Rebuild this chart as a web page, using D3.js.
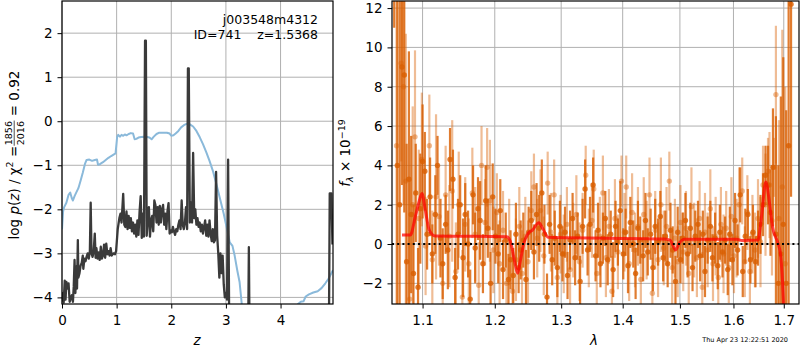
<!DOCTYPE html>
<html><head><meta charset="utf-8">
<script src="https://cdn.jsdelivr.net/npm/d3@7"></script>
<style>body{margin:0;background:#fff} svg{display:block;font-family:"DejaVu Sans",sans-serif}</style>
</head><body><svg id="c" width="800" height="350"></svg>
<script>
// ---------- DATA ----------
const zTicks = [0, 1, 2, 3, 4];
const logpTicks = [-4, -3, -2, -1, 0, 1, 2];
const lamTicks = [1.1, 1.2, 1.3, 1.4, 1.5, 1.6, 1.7];
const fluxTicks = [-2, 0, 2, 4, 6, 8, 10, 12];
const zDomain = [0, 4.96];
const logpDomain = [-4.15, 2.73];
const lamDomain = [1.0602, 1.7315];
const fluxDomain = [-3.05, 12.36];

// log p(z) (black) : [z, logp]
const pzCurve = [[0.00,-4.10],[0.02,-3.90],[0.03,-4.12],[0.05,-3.62],[0.065,-4.05],[0.08,-3.65],[0.10,-3.80],[0.12,-3.68],[0.14,-4.10],[0.16,-4.02],[0.18,-3.95],[0.20,-4.10],[0.215,-3.75],[0.23,-3.15],[0.245,-3.90],[0.26,-3.30],[0.275,-3.80],[0.29,-2.70],[0.30,-3.55],[0.32,-3.45],[0.34,-3.28],[0.36,-3.22],[0.38,-3.05],[0.39,-3.35],[0.41,-3.12],[0.43,-3.18],[0.45,-3.08],[0.47,-3.00],[0.49,-3.12],[0.51,-2.95],[0.525,-1.85],[0.54,-3.00],[0.56,-3.08],[0.58,-2.95],[0.60,-2.55],[0.615,-3.10],[0.63,-2.88],[0.65,-3.12],[0.67,-2.98],[0.69,-3.15],[0.71,-2.85],[0.73,-3.12],[0.75,-3.05],[0.77,-2.80],[0.79,-3.10],[0.81,-2.78],[0.83,-3.02],[0.85,-2.95],[0.87,-3.05],[0.89,-2.88],[0.91,-3.05],[0.94,-3.00],[0.97,-3.02],[0.99,-2.95],[1.02,-2.45],[1.05,-2.20],[1.07,-2.10],[1.09,-2.30],[1.12,-1.65],[1.14,-2.35],[1.16,-2.40],[1.18,-2.05],[1.20,-2.45],[1.22,-2.15],[1.24,-2.42],[1.26,-2.20],[1.28,-2.50],[1.30,-2.30],[1.32,-2.55],[1.34,-2.35],[1.36,-2.62],[1.38,-2.25],[1.40,-2.58],[1.42,-2.05],[1.44,-1.70],[1.46,-2.65],[1.48,-2.10],[1.50,-2.62],[1.52,1.83],[1.535,1.83],[1.55,-2.60],[1.57,-2.20],[1.59,-1.95],[1.61,-2.62],[1.63,-2.25],[1.65,-2.15],[1.67,-2.50],[1.69,-1.80],[1.71,-1.90],[1.73,-2.30],[1.75,-1.95],[1.77,-2.35],[1.79,-1.92],[1.81,-2.30],[1.83,-2.00],[1.85,-1.90],[1.87,-2.35],[1.89,-2.10],[1.91,-2.45],[1.93,-2.05],[1.95,-1.86],[1.97,-2.55],[1.99,-2.48],[2.01,-2.52],[2.03,-2.40],[2.05,-2.50],[2.07,-2.58],[2.09,-2.45],[2.11,-2.50],[2.13,-2.35],[2.15,-2.25],[2.17,-2.45],[2.19,-1.80],[2.21,-2.35],[2.23,-2.45],[2.25,-2.30],[2.27,-1.95],[2.29,-2.45],[2.305,1.20],[2.32,1.20],[2.34,-2.30],[2.36,-1.85],[2.38,-2.30],[2.40,-0.72],[2.42,-2.20],[2.44,-2.00],[2.46,-2.35],[2.48,-2.20],[2.50,-2.40],[2.52,-2.30],[2.54,-2.50],[2.56,-2.35],[2.58,-2.55],[2.60,-2.40],[2.62,-2.25],[2.64,-2.60],[2.66,-2.35],[2.68,-2.62],[2.70,-2.25],[2.72,-2.55],[2.74,-2.72],[2.76,-2.45],[2.78,-2.75],[2.80,-2.70],[2.82,-1.15],[2.84,-2.60],[2.86,-3.00],[2.88,-3.55],[2.90,-3.00],[2.92,-3.45],[2.94,-3.05],[2.96,-3.70],[2.98,-4.00],[3.00,-3.90],[3.02,-4.05],[3.04,-0.87],[3.06,-4.60],[3.08,-6.0],[3.40,-6.0],[3.42,-2.86],[3.44,-6.0],[4.88,-6.0],[4.90,-1.64],[4.93,-1.64],[4.95,-2.80]];

// prior / chi2 curve (blue) : [z, value]
const chi2Curve = [[0.00,-2.45],[0.02,-2.05],[0.04,-1.95],[0.08,-1.85],[0.12,-1.67],[0.15,-1.62],[0.18,-1.75],[0.20,-1.80],[0.23,-1.70],[0.26,-1.62],[0.30,-1.52],[0.34,-1.35],[0.38,-1.17],[0.42,-0.97],[0.45,-0.88],[0.50,-0.87],[0.55,-0.90],[0.60,-0.88],[0.64,-0.87],[0.66,-0.99],[0.70,-0.97],[0.75,-0.93],[0.80,-0.88],[0.85,-0.83],[0.90,-0.79],[0.98,-0.73],[1.01,-0.35],[1.03,-0.31],[1.06,-0.35],[1.09,-0.31],[1.12,-0.33],[1.15,-0.30],[1.18,-0.32],[1.22,-0.29],[1.26,-0.27],[1.30,-0.28],[1.33,-0.41],[1.36,-0.40],[1.40,-0.37],[1.45,-0.36],[1.50,-0.35],[1.56,-0.36],[1.60,-0.37],[1.64,-0.41],[1.68,-0.35],[1.73,-0.29],[1.78,-0.26],[1.85,-0.26],[1.92,-0.26],[1.97,-0.28],[2.00,-0.33],[2.04,-0.32],[2.08,-0.28],[2.13,-0.22],[2.18,-0.14],[2.23,-0.09],[2.28,-0.06],[2.34,-0.07],[2.40,-0.12],[2.46,-0.22],[2.52,-0.36],[2.58,-0.52],[2.64,-0.70],[2.70,-0.90],[2.76,-1.12],[2.83,-1.45],[2.90,-1.80],[2.96,-2.10],[3.02,-2.45],[3.07,-2.75],[3.12,-2.83],[3.16,-3.05],[3.21,-3.40],[3.25,-3.65],[3.29,-4.15],[3.32,-4.60],[3.35,-6.0],[4.25,-6.0],[4.28,-4.50],[4.32,-4.15],[4.37,-4.10],[4.42,-4.09],[4.46,-3.98],[4.52,-3.93],[4.60,-3.89],[4.68,-3.86],[4.75,-3.79],[4.82,-3.68],[4.88,-3.57],[4.96,-3.38]];

// spectrum, darker exposure : [lambda, flux, err]
const specDark = [[1.063,14.5,3.5],[1.067,4.0,9.0],[1.070,2.0,11.0],[1.073,9.0,6.0],[1.076,8.6,7.0],[1.079,-0.9,6.0],[1.082,3.3,6.5],[1.085,1.5,4.0],[1.088,-1.5,3.5],[1.091,2.6,2.5],[1.094,-2.2,2.0],[1.097,1.8,2.8],[1.100,4.2,2.9],[1.103,3.7,2.0],[1.106,0.5,1.8],[1.110,2.4,2.0],[1.113,-0.5,1.5],[1.117,1.5,2.0],[1.120,4.0,1.5],[1.124,0.3,2.0],[1.127,-1.0,1.8],[1.131,1.0,1.5],[1.134,-0.3,2.0],[1.137,4.3,1.6],[1.141,3.3,1.5],[1.144,-1.7,1.5],[1.148,0.5,1.8],[1.151,2.0,1.5],[1.155,-0.7,2.0],[1.158,1.5,1.6],[1.162,0.0,1.7],[1.165,-2.8,1.5],[1.169,2.5,1.5],[1.172,-0.2,1.8],[1.176,1.8,1.6],[1.179,1.2,2.0],[1.183,-1.0,1.5],[1.187,2.2,1.8],[1.190,0.8,1.5],[1.194,-2.0,1.6],[1.197,2.4,1.7],[1.201,0.4,1.4],[1.205,-0.5,1.5],[1.208,1.7,1.6],[1.212,-1.3,1.5],[1.216,0.2,1.4],[1.220,-1.8,1.3],[1.223,-0.8,1.5],[1.227,-1.6,1.4],[1.231,0.5,1.6],[1.235,-1.2,1.3],[1.238,-0.3,1.5],[1.242,0.2,1.4],[1.246,-1.8,1.5],[1.250,0.6,1.3],[1.254,1.2,1.5],[1.258,-0.4,1.4],[1.262,1.5,1.6],[1.266,0.8,1.7],[1.270,2.6,1.7],[1.274,0.5,1.5],[1.278,-2.7,1.2],[1.282,1.0,1.5],[1.286,-0.8,1.3],[1.290,0.3,1.4],[1.294,-1.2,1.5],[1.298,0.9,1.3],[1.302,-0.5,1.4],[1.306,0.6,1.3],[1.310,-1.6,1.2],[1.314,0.2,1.5],[1.318,1.3,1.3],[1.322,-0.7,1.4],[1.326,0.4,1.2],[1.330,-1.9,1.3],[1.334,0.9,1.4],[1.338,2.8,1.5],[1.342,-0.3,1.3],[1.346,1.0,1.4],[1.351,3.0,1.4],[1.355,-0.6,1.3],[1.359,0.7,1.4],[1.363,-1.0,1.2],[1.367,0.3,1.3],[1.371,1.3,1.4],[1.375,-0.8,1.3],[1.380,0.5,1.2],[1.384,-1.3,1.4],[1.388,0.9,1.3],[1.392,0.1,1.2],[1.396,1.7,1.5],[1.401,-0.5,1.3],[1.405,0.6,1.2],[1.409,-1.1,1.4],[1.413,1.1,1.3],[1.418,0.0,1.2],[1.422,-1.5,1.3],[1.426,0.8,1.4],[1.430,0.2,1.2],[1.435,-0.6,1.3],[1.439,1.2,1.4],[1.443,-0.4,1.2],[1.448,0.5,1.3],[1.452,-1.2,1.2],[1.456,0.9,1.4],[1.461,0.1,1.2],[1.465,1.4,1.3],[1.470,-0.7,1.2],[1.474,0.4,1.3],[1.478,-1.0,1.2],[1.483,0.7,1.4],[1.487,-0.3,1.2],[1.492,-1.9,1.3],[1.496,0.6,1.3],[1.501,-0.8,1.2],[1.505,0.3,1.3],[1.510,1.2,1.4],[1.514,-0.5,1.2],[1.519,0.8,1.3],[1.523,-1.2,1.2],[1.528,0.4,1.3],[1.533,1.0,1.2],[1.537,-0.6,1.3],[1.542,0.5,1.2],[1.546,-1.4,1.3],[1.551,0.2,1.2],[1.556,0.9,1.3],[1.560,-0.7,1.2],[1.565,0.3,1.3],[1.570,-1.1,1.2],[1.574,0.6,1.4],[1.579,-0.4,1.3],[1.584,0.2,1.2],[1.589,-1.3,1.3],[1.593,0.5,1.4],[1.598,-0.8,1.3],[1.603,1.2,1.4],[1.608,-0.3,1.3],[1.613,2.5,1.4],[1.618,-1.4,1.3],[1.623,0.4,1.4],[1.628,1.5,1.3],[1.633,-0.8,1.2],[1.638,0.6,1.4],[1.643,-0.9,1.3],[1.648,0.3,1.4],[1.653,1.0,1.5],[1.658,2.0,1.6],[1.663,3.5,1.5],[1.668,3.0,2.0],[1.673,1.6,2.2],[1.678,3.9,3.0],[1.684,0.5,6.0],[1.689,-2.0,6.0],[1.694,-0.5,8.0],[1.699,1.0,8.5],[1.705,-2.0,8.8],[1.710,5.0,10.0],[1.715,12.2,9.8]];

// spectrum, lighter exposure : [lambda, flux, err]
const specLight = [[1.066,5.0,10.0],[1.072,9.2,5.0],[1.075,8.0,6.0],[1.078,3.2,7.5],[1.083,-2.8,6.0],[1.087,2.0,5.0],[1.090,5.45,4.4],[1.095,1.3,3.5],[1.099,4.3,3.4],[1.104,-0.1,2.5],[1.109,5.0,2.6],[1.113,-0.8,2.5],[1.118,2.4,4.2],[1.122,1.4,2.5],[1.127,-2.0,2.5],[1.131,2.5,2.5],[1.136,0.4,2.6],[1.140,2.7,3.6],[1.145,-1.4,2.5],[1.149,2.0,2.7],[1.154,-2.7,2.4],[1.158,1.0,2.4],[1.163,-1.0,2.3],[1.168,2.6,2.3],[1.172,0.5,2.4],[1.177,-2.1,2.2],[1.181,4.0,2.0],[1.186,1.1,2.2],[1.189,3.9,2.0],[1.193,2.2,3.1],[1.198,-0.3,2.2],[1.203,1.6,2.0],[1.207,-1.0,2.2],[1.212,0.7,2.0],[1.217,-2.0,2.1],[1.221,0.1,2.2],[1.226,-2.4,2.0],[1.231,-0.8,2.1],[1.236,0.9,2.0],[1.240,-1.5,2.2],[1.245,0.4,2.0],[1.249,-0.9,2.1],[1.254,1.7,2.0],[1.258,2.9,1.7],[1.263,0.3,2.0],[1.268,1.7,2.1],[1.273,-0.6,2.0],[1.279,3.1,1.6],[1.284,0.6,2.0],[1.289,2.5,1.8],[1.294,-1.7,1.9],[1.299,0.5,2.0],[1.304,-0.5,2.0],[1.309,1.0,1.9],[1.314,-1.3,2.0],[1.319,0.2,1.9],[1.324,1.5,2.0],[1.329,-0.9,2.0],[1.334,0.7,1.9],[1.339,3.5,1.5],[1.344,-0.2,2.0],[1.349,1.2,1.9],[1.352,2.8,2.0],[1.357,-1.5,1.9],[1.362,0.4,2.0],[1.367,2.6,1.9],[1.372,-0.7,2.0],[1.377,0.9,1.9],[1.382,-2.4,1.8],[1.387,1.3,2.0],[1.392,-0.4,1.9],[1.398,3.2,1.3],[1.403,0.6,2.0],[1.406,2.9,1.6],[1.411,-1.0,1.9],[1.416,1.6,2.0],[1.421,-0.3,1.9],[1.426,0.9,2.0],[1.431,-1.8,1.8],[1.436,1.5,1.9],[1.441,0.2,2.0],[1.446,2.5,1.9],[1.451,-2.5,1.8],[1.456,0.7,2.0],[1.461,-0.8,1.9],[1.466,2.0,2.4],[1.471,-0.2,1.9],[1.476,0.9,2.0],[1.481,3.2,1.5],[1.486,-1.2,1.9],[1.491,0.3,2.0],[1.496,-0.9,1.8],[1.501,1.1,1.9],[1.506,-0.4,2.0],[1.511,0.8,1.9],[1.516,-1.5,1.8],[1.521,1.9,2.0],[1.526,0.2,1.9],[1.531,-0.7,2.0],[1.536,1.3,1.9],[1.541,-2.2,1.8],[1.546,0.6,2.0],[1.551,-0.3,1.9],[1.556,1.8,2.0],[1.561,-1.0,1.9],[1.566,0.4,2.0],[1.571,-1.7,1.8],[1.576,1.0,1.9],[1.581,-0.5,2.0],[1.586,0.8,1.9],[1.591,-1.2,1.8],[1.596,1.4,2.0],[1.601,-0.6,1.9],[1.606,0.3,2.0],[1.611,2.0,1.9],[1.617,2.7,1.7],[1.622,-0.9,1.8],[1.627,1.6,1.9],[1.632,-1.4,1.8],[1.637,0.5,2.0],[1.642,-0.3,1.9],[1.648,1.3,2.0],[1.653,0.1,2.3],[1.658,3.0,2.0],[1.663,2.0,2.6],[1.668,3.7,1.7],[1.671,3.0,2.7],[1.676,1.2,2.8],[1.680,3.9,1.5],[1.684,7.6,3.5],[1.690,1.3,5.0],[1.697,2.9,8.0],[1.703,-1.0,9.0]];

// best-fit model (red) : [lambda, flux]
const modelCurve = [[1.0731,0.46],[1.0839,0.46],[1.0904,1.39],[1.0947,2.06],[1.0992,2.57],[1.1036,1.73],[1.1089,0.71],[1.1169,0.41],[1.2176,0.37],[1.2237,0.03],[1.2286,-0.81],[1.2335,-1.49],[1.2378,-0.81],[1.2428,0.03],[1.2492,0.54],[1.2557,0.71],[1.2655,1.08],[1.2712,0.80],[1.2800,0.34],[1.47,0.25],[1.4822,0.20],[1.4922,-0.30],[1.4985,0.03],[1.5085,0.24],[1.6063,0.24],[1.6165,0.18],[1.648,0.20],[1.655,1.39],[1.6636,3.16],[1.6703,2.23],[1.677,0.88],[1.6883,0.03],[1.6931,-0.47],[1.6973,-1.83],[1.7005,-3.5]];

const annotName = "j003548m4312";
const annotId = "ID=741    z=1.5368";
const stamp = "Thu Apr 23 12:22:51 2020";

// ---------- DRAW ----------
const svg = d3.select('#c');
const FS = 13.5;
const gridCol = '#b0b0b0';
const L = {x0: 62, x1: 333, y0: 1, y1: 304};
const R = {x0: 392, x1: 799, y0: 1, y1: 304};

const xL = d3.scaleLinear().domain(zDomain).range([L.x0, L.x1]);
const yL = d3.scaleLinear().domain(logpDomain).range([L.y1, L.y0]);
const xR = d3.scaleLog().domain(lamDomain).range([R.x0, R.x1]);
const yR = d3.scaleLinear().domain(fluxDomain).range([R.y1, R.y0]);

const defs = svg.append('defs');
function clip(id, b) {
  defs.append('clipPath').attr('id', id).append('rect')
    .attr('x', b.x0).attr('y', b.y0).attr('width', b.x1 - b.x0).attr('height', b.y1 - b.y0);
}
clip('clipL', L); clip('clipR', R);

function grid(b, xs, ys, xt, yt) {
  const g = svg.append('g').attr('stroke', gridCol).attr('stroke-width', 1);
  xt.forEach(v => g.append('line').attr('x1', xs(v)).attr('x2', xs(v)).attr('y1', b.y0).attr('y2', b.y1));
  yt.forEach(v => g.append('line').attr('y1', ys(v)).attr('y2', ys(v)).attr('x1', b.x0).attr('x2', b.x1));
}
grid(L, xL, yL, zTicks, logpTicks);
grid(R, xR, yR, lamTicks, fluxTicks);

// left panel curves
const pL = svg.append('g').attr('clip-path', 'url(#clipL)');
const lineL = d3.line().x(d => xL(d[0])).y(d => yL(d[1]));
pL.append('path').attr('d', lineL(chi2Curve)).attr('fill', 'none')
  .attr('stroke', '#8ab9da').attr('stroke-width', 2).attr('stroke-linejoin', 'round');
pL.append('path').attr('d', lineL(pzCurve)).attr('fill', 'none')
  .attr('stroke', '#3a3a3a').attr('stroke-width', 2.3).attr('stroke-linejoin', 'round');

// right panel spectra
const pR = svg.append('g').attr('clip-path', 'url(#clipR)');
function spectrum(data, op, w) {
  const g = pR.append('g');
  g.selectAll('line').data(data).join('line')
    .attr('x1', d => xR(d[0])).attr('x2', d => xR(d[0]))
    .attr('y1', d => yR(d[1] - d[2])).attr('y2', d => yR(d[1] + d[2]))
    .attr('stroke', '#d95f02').attr('stroke-opacity', op).attr('stroke-width', w);
  g.selectAll('circle').data(data).join('circle')
    .attr('cx', d => xR(d[0])).attr('cy', d => yR(d[1])).attr('r', 2.7)
    .attr('fill', '#d95f02').attr('fill-opacity', op);
}
spectrum(specLight, 0.42, 2.2);
spectrum(specDark, 0.82, 2.2);

pR.append('path')
  .attr('d', d3.line().x(d => xR(d[0])).y(d => yR(d[1])).curve(d3.curveMonotoneX)(modelCurve))
  .attr('fill', 'none').attr('stroke', '#ff0000').attr('stroke-opacity', 0.72).attr('stroke-width', 3);
pR.append('line').attr('x1', R.x0).attr('x2', R.x1).attr('y1', yR(0)).attr('y2', yR(0))
  .attr('stroke', '#000').attr('stroke-width', 2).attr('stroke-dasharray', '2,3.2');

// axes
function axes(b, xs, ys, xt, yt, xfmt, yfmt) {
  const ax = svg.append('g').attr('transform', `translate(0,${b.y1})`)
    .call(d3.axisBottom(xs).tickValues(xt).tickFormat(xfmt).tickSize(4.5).tickPadding(6.5));
  const ay = svg.append('g').attr('transform', `translate(${b.x0},0)`)
    .call(d3.axisLeft(ys).tickValues(yt).tickFormat(yfmt).tickSize(4.5).tickPadding(5));
  [ax, ay].forEach(a => {
    a.select('.domain').remove();
    a.selectAll('text').attr('font-size', FS).attr('fill', '#000').attr('font-family', '"DejaVu Sans",sans-serif');
    a.selectAll('line').attr('stroke', '#000');
  });
  svg.append('rect').attr('x', b.x0).attr('y', b.y0).attr('width', b.x1 - b.x0).attr('height', b.y1 - b.y0)
    .attr('fill', 'none').attr('stroke', '#000').attr('stroke-width', 1.2);
}
const minus = s => s.replace('-', '\u2212');
axes(L, xL, yL, zTicks, logpTicks, d => String(d), d => minus(String(d)));
axes(R, xR, yR, lamTicks, fluxTicks, d => d.toFixed(1), d => minus(String(d)));

// annotation
svg.append('text').attr('x', 318).attr('y', 24).attr('text-anchor', 'end').attr('font-size', 12.5).text(annotName);
svg.append('text').attr('x', 318).attr('y', 39).attr('text-anchor', 'end').attr('font-size', 12.5).attr('xml:space', 'preserve').style('white-space', 'pre').text(annotId);

// x labels
svg.append('text').attr('x', 197).attr('y', 345).attr('text-anchor', 'middle').attr('font-size', FS).attr('font-style', 'italic').text('z');
svg.append('text').attr('x', 594).attr('y', 345).attr('text-anchor', 'middle').attr('font-size', FS).attr('font-style', 'italic').text('λ');

// left y label (rotated)
(function () {
  const g = svg.append('g').attr('transform', 'translate(18.5,155) rotate(-90)');
  const t1 = g.append('text').attr('font-size', FS).attr('x', 0).attr('y', 0);
  t1.append('tspan').text('log ');
  t1.append('tspan').attr('font-style', 'italic').text('p');
  t1.append('tspan').text('(');
  t1.append('tspan').attr('font-style', 'italic').text('z');
  t1.append('tspan').text(') / χ');
  t1.append('tspan').attr('font-size', 9.5).attr('dy', -5.5).text('2');
  t1.append('tspan').attr('dy', 5.5).text(' = ');
  const w1 = t1.node().getComputedTextLength();
  const num = g.append('text').attr('font-size', 9.5).attr('y', -6.2).text('1856');
  const den = g.append('text').attr('font-size', 9.5).attr('y', 5.2).text('2016');
  const wf = Math.max(num.node().getComputedTextLength(), den.node().getComputedTextLength()) + 1;
  const t3 = g.append('text').attr('font-size', FS).attr('xml:space', 'preserve').style('white-space', 'pre').text(' = 0.92');
  const w3 = t3.node().getComputedTextLength();
  const total = w1 + wf + w3;
  const s = -total / 2;
  t1.attr('x', s);
  num.attr('x', s + w1 + wf / 2).attr('text-anchor', 'middle');
  den.attr('x', s + w1 + wf / 2).attr('text-anchor', 'middle');
  g.append('line').attr('x1', s + w1).attr('x2', s + w1 + wf).attr('y1', -4.3).attr('y2', -4.3).attr('stroke', '#000').attr('stroke-width', 0.7);
  t3.attr('x', s + w1 + wf);
})();

// right y label (rotated)
(function () {
  const g = svg.append('g').attr('transform', 'translate(350,153) rotate(-90)');
  const t = g.append('text').attr('font-size', FS).attr('text-anchor', 'middle');
  t.append('tspan').attr('font-style', 'italic').text('f');
  t.append('tspan').attr('font-size', 9.5).attr('dy', 3).attr('font-style', 'italic').text('λ');
  t.append('tspan').attr('dy', -3).text(' × 10');
  t.append('tspan').attr('font-size', 9.5).attr('dy', -5.5).text('\u221219');
})();

// timestamp
svg.append('text').attr('x', 788).attr('y', 341.5).attr('text-anchor', 'end').attr('font-size', 6.5).text(stamp);
</script></body></html>
